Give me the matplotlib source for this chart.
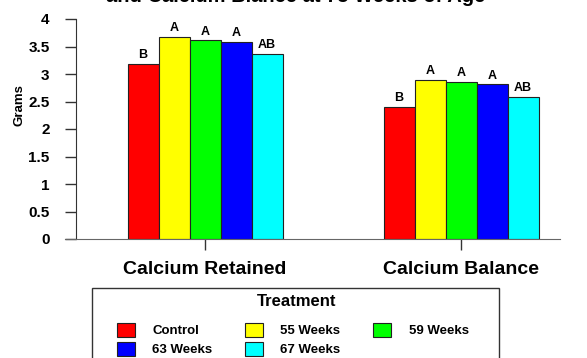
import matplotlib

matplotlib.use("Agg")
import matplotlib.pyplot as plt
import numpy as np
from matplotlib.patches import Patch, Rectangle

plt.rcParams["font.family"] = ["Liberation Sans", "DejaVu Sans"]
plt.rcParams["font.weight"] = "bold"

groups = ["Calcium Retained", "Calcium Balance"]
treatments = ["Control", "55 Weeks", "59 Weeks", "63 Weeks", "67 Weeks"]
colors = ["#ff0000", "#ffff00", "#00ff00", "#0000ff", "#00ffff"]
values = [
    [3.18, 3.67, 3.61, 3.58, 3.37],
    [2.40, 2.89, 2.86, 2.81, 2.59],
]
letters = [
    ["B", "A", "A", "A", "AB"],
    ["B", "A", "A", "A", "AB"],
]
yticks = [0, 0.5, 1, 1.5, 2, 2.5, 3, 3.5, 4]
ytick_labels = ["0", "0.5", "1", "1.5", "2", "2.5", "3", "3.5", "4"]

W, H = 587, 358
fig = plt.figure(figsize=(W / 100, H / 100), dpi=100)
ax = fig.add_axes([76 / W, 1 - 239 / H, (560 - 76) / W, 220 / H])

bar_w = 31 / 256
centers = np.arange(len(groups))
n = len(treatments)
for g, c in enumerate(centers):
    for i in range(n):
        x = c + (i - (n - 1) / 2) * bar_w
        ax.bar(x, values[g][i], width=bar_w, color=colors[i],
               edgecolor="#222222", linewidth=0.8, zorder=2)
        ax.text(x, values[g][i] + 0.05, letters[g][i], ha="center",
                va="bottom", fontsize=9, fontweight="bold")

ax.set_xlim(-129 / 256, 355 / 256)
ax.set_ylim(0, 4)
ax.set_yticks(yticks)
ax.set_yticklabels(ytick_labels, fontsize=11, fontweight="bold")
ax.set_xticks(centers)
ax.set_xticklabels(groups, fontsize=14, fontweight="bold")
ax.tick_params(axis="y", direction="out", length=8, width=1, pad=11,
               color="#333333")
ax.tick_params(axis="x", direction="out", length=8, width=1, pad=7.5,
               color="#333333")
for s in ["top", "right"]:
    ax.spines[s].set_visible(False)
ax.spines["left"].set_color("#333333")
ax.spines["bottom"].set_color("#666666")
ax.spines["bottom"].set_bounds(-140 / 256, 355 / 256)
ax.set_ylabel("Grams", fontsize=9.5, fontweight="bold")
ax.yaxis.set_label_coords(-0.105, 0.61)

fig.text(296 / W, 1 - 2 / H, "and Calcium Blance at 75 Weeks of Age",
         ha="center", va="baseline", fontsize=14.5, fontweight="bold")

# legend frame and title
fig.patches.append(Rectangle((92 / W, 1 - 380 / H), 407 / W, 92 / H,
                             transform=fig.transFigure, fill=False,
                             edgecolor="#333333", linewidth=1))
fig.text(297 / W, 1 - 302 / H, "Treatment", ha="center", va="center",
         fontsize=12, fontweight="bold")

order = [0, 3, 1, 4, 2]
handles = [Patch(facecolor=colors[i], edgecolor="#222222", linewidth=0.8,
                 label=treatments[i]) for i in order]
leg = fig.legend(handles=handles, ncol=3, loc="upper left",
                 bbox_to_anchor=(117 / W, 1 - 323 / H), fontsize=9.5,
                 handlelength=1.36, handleheight=1.2, handletextpad=1.3,
                 columnspacing=2.5, borderpad=0, labelspacing=0.38,
                 frameon=False, borderaxespad=0)
for t in leg.get_texts():
    t.set_fontweight("bold")

fig.savefig("out.png", dpi=100)
